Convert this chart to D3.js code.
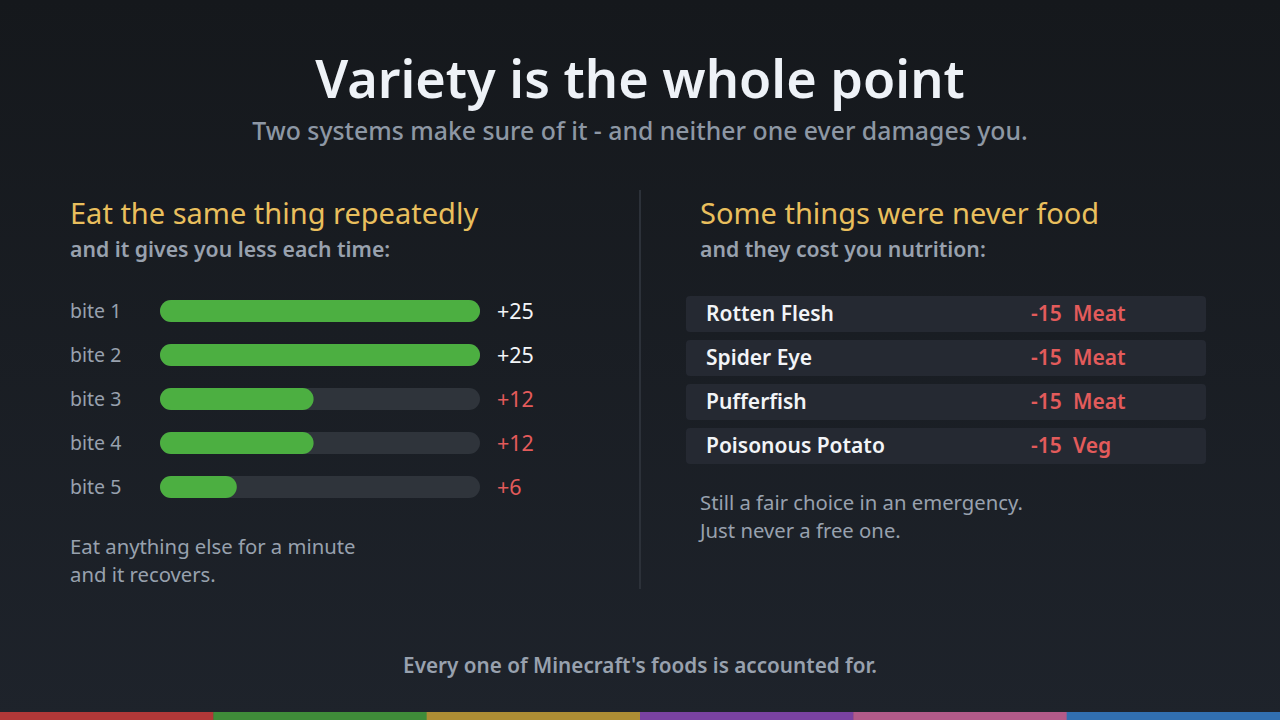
<!DOCTYPE html>
<html>
<head>
<meta charset="utf-8">
<script src="https://cdn.jsdelivr.net/npm/d3@7"></script>
<style>
  html, body { margin: 0; padding: 0; background: #181b21; }
  svg { display: block; font-family: "Noto Sans", "Open Sans", sans-serif; }
</style>
</head>
<body>
<div id="chart"></div>
<script>
const W = 1280, H = 720;

// bites of the same food and what each one gives
const bites = ["bite 1", "bite 2", "bite 3", "bite 4", "bite 5"];
const biteValues = [25, 25, 12, 12, 6];
const biteMax = 25;

// foods that cost nutrition
const badFoods = ["Rotten Flesh", "Spider Eye", "Pufferfish", "Poisonous Potato"];
const badCost = [-15, -15, -15, -15];
const badGroup = ["Meat", "Meat", "Meat", "Veg"];

const stripeColors = ["#b13838", "#3f8c39", "#ad8d34", "#7a42a1", "#b25a89", "#316fb0"];

const muted = "#98a1ae", red = "#e35b5b", gold = "#e9bf5d";

let svg = d3.select("#chart").append("svg")
    .attr("width", W)
    .attr("height", H)
    .attr("viewBox", [0, 0, W, H].join(" "));

// background
let grad = svg.append("defs").append("linearGradient")
    .attr("id", "bg").attr("x1", 0).attr("y1", 0).attr("x2", 0).attr("y2", 1);
grad.append("stop").attr("offset", "0%").attr("stop-color", "#15181c");
grad.append("stop").attr("offset", "100%").attr("stop-color", "#1e232b");
svg.append("rect").attr("width", W).attr("height", H).attr("fill", "url(#bg)");

// title
svg.append("text")
    .attr("x", 640).attr("y", 98)
    .attr("text-anchor", "middle")
    .attr("font-size", 52.3).attr("font-weight", 600)
    .attr("fill", "#eef2f7")
    .text("Variety is the whole point");
svg.append("text")
    .attr("x", 640).attr("y", 140)
    .attr("text-anchor", "middle")
    .attr("font-size", 24.8).attr("font-weight", 500)
    .attr("fill", "#8d97a4")
    .text("Two systems make sure of it - and neither one ever damages you.");

// divider
svg.append("line")
    .attr("x1", 640).attr("x2", 640).attr("y1", 190).attr("y2", 589)
    .attr("stroke", "#2c3139").attr("stroke-width", 2);

// section headers
function header(x, title, sub) {
    svg.append("text").attr("x", x).attr("y", 224)
        .attr("font-size", 29).attr("fill", gold).text(title);
    svg.append("text").attr("x", x).attr("y", 257)
        .attr("font-size", 21.2).attr("font-weight", 600).attr("fill", muted).text(sub);
}
header(70, "Eat the same thing repeatedly", "and it gives you less each time:");
header(700, "Some things were never food", "and they cost you nutrition:");

// left: diminishing bites
let yBites = d3.scaleBand().domain(bites).range([289, 509]).paddingInner(0.5).paddingOuter(0.25);
let xBite = d3.scaleLinear().domain([0, biteMax]).range([0, 320]);

let biteRows = svg.append("g").selectAll("g").data(bites).join("g")
    .attr("transform", d => `translate(0,${yBites(d)})`);
biteRows.append("text")
    .attr("x", 70).attr("y", yBites.bandwidth() / 2).attr("dy", "0.35em")
    .attr("font-size", 19.5).attr("fill", muted)
    .text(d => d);
biteRows.append("rect")
    .attr("x", 160).attr("width", xBite(biteMax)).attr("height", yBites.bandwidth())
    .attr("rx", yBites.bandwidth() / 2).attr("fill", "#2f343b");
biteRows.append("rect")
    .attr("x", 160).attr("width", (d, i) => xBite(biteValues[i])).attr("height", yBites.bandwidth())
    .attr("rx", yBites.bandwidth() / 2).attr("fill", "#4caf41");
biteRows.append("text")
    .attr("x", 497).attr("y", yBites.bandwidth() / 2).attr("dy", "0.35em")
    .attr("font-size", 21.5)
    .attr("fill", (d, i) => biteValues[i] < biteMax ? red : "#f2f4f7")
    .text((d, i) => "+" + biteValues[i]);

svg.append("text").attr("x", 70).attr("y", 554)
    .attr("font-size", 20.3).attr("fill", muted).text("Eat anything else for a minute");
svg.append("text").attr("x", 70).attr("y", 582)
    .attr("font-size", 20.3).attr("fill", muted).text("and it recovers.");

// right: foods that cost you
let yBad = d3.scaleBand().domain(badFoods).range([292, 468]).paddingInner(8 / 44).paddingOuter(4 / 44);
let badRows = svg.append("g").selectAll("g").data(badFoods).join("g")
    .attr("transform", d => `translate(0,${yBad(d)})`);
badRows.append("rect")
    .attr("x", 686).attr("width", 520).attr("height", yBad.bandwidth())
    .attr("rx", 4).attr("fill", "#252932");
badRows.append("text")
    .attr("x", 706).attr("y", yBad.bandwidth() / 2).attr("dy", "0.35em")
    .attr("font-size", 21).attr("font-weight", 600).attr("fill", "#f2f4f7")
    .text(d => d);
badRows.append("text")
    .attr("x", 1031).attr("y", yBad.bandwidth() / 2).attr("dy", "0.35em")
    .attr("font-size", 21).attr("font-weight", 600).attr("fill", red)
    .text((d, i) => badCost[i]);
badRows.append("text")
    .attr("x", 1073).attr("y", yBad.bandwidth() / 2).attr("dy", "0.35em")
    .attr("font-size", 21).attr("font-weight", 600).attr("fill", red)
    .text((d, i) => badGroup[i]);

svg.append("text").attr("x", 700).attr("y", 510)
    .attr("font-size", 20.3).attr("fill", muted).text("Still a fair choice in an emergency.");
svg.append("text").attr("x", 700).attr("y", 538)
    .attr("font-size", 20.3).attr("fill", muted).text("Just never a free one.");

// footer
svg.append("text")
    .attr("x", 640).attr("y", 673).attr("text-anchor", "middle")
    .attr("font-size", 20.7).attr("font-weight", 600).attr("fill", muted)
    .text("Every one of Minecraft's foods is accounted for.");

// colour stripe along the bottom
let xStripe = d3.scaleBand().domain(d3.range(stripeColors.length)).range([0, W]);
svg.append("g").selectAll("rect").data(stripeColors).join("rect")
    .attr("x", (d, i) => xStripe(i)).attr("y", 712)
    .attr("width", xStripe.bandwidth() + 0.5).attr("height", 8)
    .attr("fill", d => d);
</script>
</body>
</html>
